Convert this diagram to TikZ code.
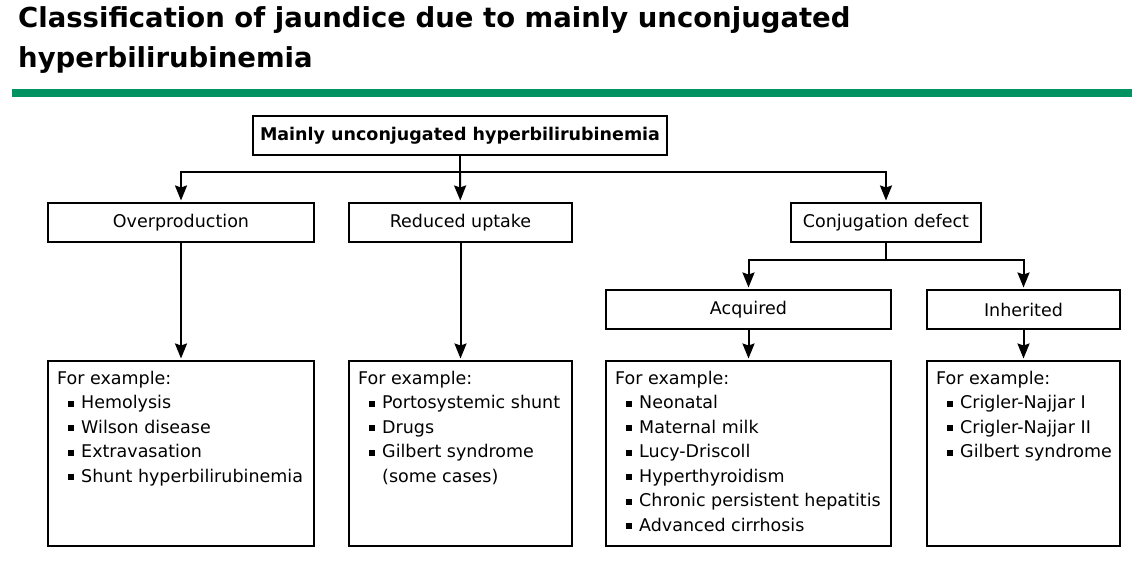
\documentclass[tikz,border=0pt]{standalone}
\usepackage{fontspec}
\setmainfont{DejaVu Sans}
\usetikzlibrary{arrows.meta,positioning}
\definecolor{ugreen}{RGB}{0,146,96}
\newcommand{\bul}{\hspace*{11pt}\rule[2pt]{6pt}{6pt}\hspace{7pt}}
\newcommand{\cont}{\hspace*{24pt}}
\tikzset{
  hbox/.style   = {draw, line width=2pt, minimum height=39pt, inner sep=0pt,
                   font=\fontsize{17.5}{20}\selectfont},
  exbox/.style  = {draw, line width=2pt, minimum height=185pt, inner sep=0pt},
  extext/.style = {anchor=north west, align=left, inner sep=0pt,
                   font=\fontsize{17.5}{24.5}\selectfont},
  link/.style   = {line width=2pt},
  arr/.style    = {link, -{Stealth[length=15pt,width=12pt,inset=2pt]}, shorten >=1.5pt},
}

\begin{document}
\begin{tikzpicture}[x=1pt,y=-1pt]
  \useasboundingbox (0,0) rectangle (1132,561);
  \node[anchor=north west, align=left, inner sep=0pt,
        font=\fontsize{27.5}{40}\bfseries\selectfont] (title) at (18,6)
    {Classification of jaundice due to mainly unconjugated\\hyperbilirubinemia};
  \fill[ugreen] (12,89) rectangle (1132,97);

  \node[hbox, minimum width=414pt, font=\fontsize{17.5}{20}\bfseries\selectfont] (top) at (460,136)
    {Mainly unconjugated hyperbilirubinemia};
  \node[hbox, minimum width=266pt] (over)    at (181,222.5)  {Overproduction};
  \node[hbox, minimum width=223pt] (reduced) at (460.5,222.5) {Reduced uptake};
  \node[hbox, minimum width=190pt] (conj)    at (886,222.5)  {Conjugation defect};
  \node[hbox, minimum width=285pt] (acq)     at (748.5,309.5) {Acquired};
  \node[hbox, minimum width=193pt] (inh)     at (1023.5,309.5) {Inherited};

  \foreach \n/\x/\w in {ex1/181/266, ex2/460.5/223, ex3/748.5/285, ex4/1023.5/193}
    {\node[exbox, minimum width=\w pt] (\n) at (\x,453.5) {};}

  \node[extext] (t1) at ([shift={(10,11)}]ex1.north west)
    {For example:\\\bul Hemolysis\\\bul Wilson disease\\\bul Extravasation\\\bul Shunt hyperbilirubinemia};
  \node[extext] (t2) at ([shift={(10,11)}]ex2.north west)
    {For example:\\\bul Portosystemic shunt\\\bul Drugs\\\bul Gilbert syndrome\\\cont(some cases)};
  \node[extext] (t3) at ([shift={(10,11)}]ex3.north west)
    {For example:\\\bul Neonatal\\\bul Maternal milk\\\bul Lucy-Driscoll\\\bul Hyperthyroidism\\
     \bul Chronic persistent hepatitis\\\bul Advanced cirrhosis};
  \node[extext] (t4) at ([shift={(10,11)}]ex4.north west)
    {For example:\\\bul Crigler-Najjar I\\\bul Crigler-Najjar II\\\bul Gilbert syndrome};

  \coordinate (bus) at (460,172);
  \draw[link] (top) -- (bus);
  \draw[arr] (bus) -| (over);
  \draw[arr] (bus) -- (reduced);
  \draw[arr] (bus) -| (conj);
  \coordinate (split) at (886,260);
  \draw[link] (conj) -- (split);
  \draw[arr] (split) -| (acq);
  \draw[arr] (split) -| (inh);
  \draw[arr] (over) -- (ex1);
  \draw[arr] (reduced) -- (ex2);
  \draw[arr] (acq) -- (ex3);
  \draw[arr] (inh) -- (ex4);
\end{tikzpicture}
\end{document}
